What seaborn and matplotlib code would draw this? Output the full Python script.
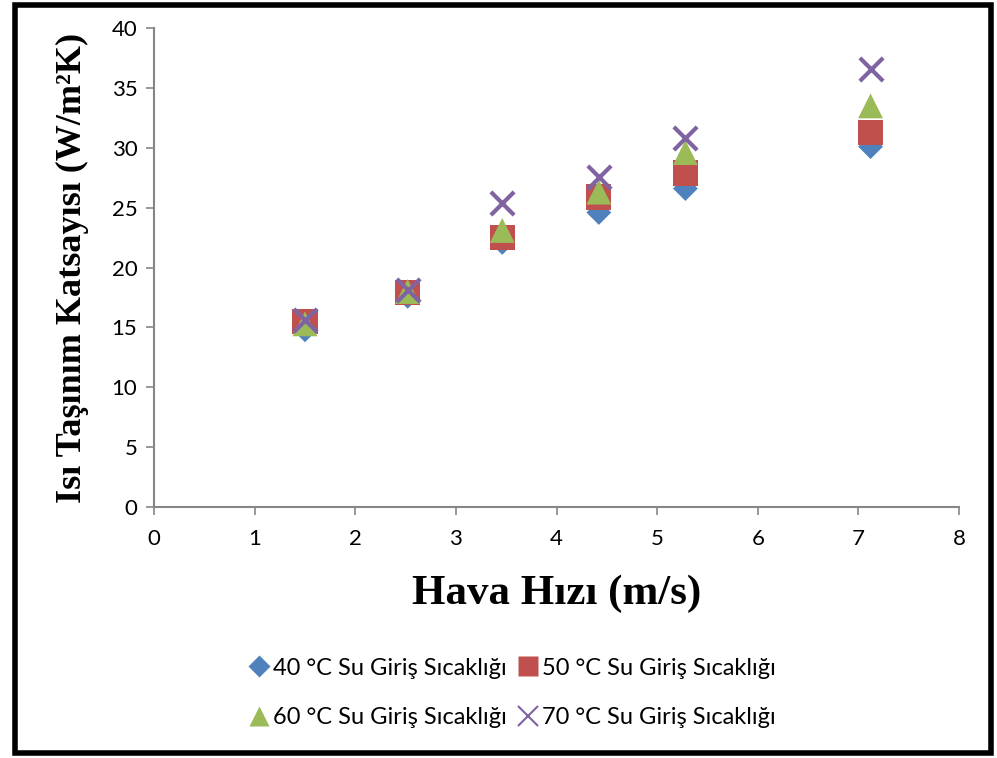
import matplotlib
matplotlib.use("Agg")
import matplotlib.pyplot as plt
import seaborn as sns
import pandas as pd
from matplotlib.patches import Rectangle
from matplotlib.lines import Line2D

sns.set_style("white")
plt.rcParams['font.family'] = ['Lato', 'DejaVu Sans']
plt.rcParams['text.color'] = 'black'
plt.rcParams['axes.labelcolor'] = 'black'
plt.rcParams['xtick.color'] = 'black'
plt.rcParams['ytick.color'] = 'black'

hava_hizi = [1.50, 2.52, 3.46, 4.42, 5.28, 7.12]
series_names = ["40 °C Su Giriş Sıcaklığı", "50 °C Su Giriş Sıcaklığı",
                "60 °C Su Giriş Sıcaklığı", "70 °C Su Giriş Sıcaklığı"]
h40 = [14.8, 17.6, 22.1, 24.6, 26.6, 30.1]
h50 = [15.5, 17.9, 22.5, 25.9, 27.9, 31.3]
h60 = [15.3, 18.0, 23.1, 26.3, 29.6, 33.5]
h70 = [15.6, 18.1, 25.4, 27.6, 30.8, 36.6]
x_ticks = [0, 1, 2, 3, 4, 5, 6, 7, 8]
y_ticks = [0, 5, 10, 15, 20, 25, 30, 35, 40]

colors = ["#4F81BD", "#C0504D", "#9BBB59", "#8064A2"]
markers = ["D", "s", "^", "x"]
sizes = [160, 330, 320, 280]

rows = []
for name, vals in zip(series_names, [h40, h50, h60, h70]):
    for xv, yv in zip(hava_hizi, vals):
        rows.append({"x": xv, "y": yv, "seri": name})
df = pd.DataFrame(rows)

fig = plt.figure(figsize=(9.97, 7.58), dpi=100)
ax = fig.add_axes([0.1545, 0.331, 0.8075, 0.632])

for name, c, m, s in zip(series_names, colors, markers, sizes):
    sub = df[df["seri"] == name]
    kw = dict(color=c, marker=m, s=s, ax=ax, label=name, zorder=3)
    if m == "x":
        kw.update(linewidth=3)
    else:
        kw.update(edgecolor="none")
    sns.scatterplot(data=sub, x="x", y="y", legend=False, **kw)

ax.set_xlim(0, 8)
ax.set_ylim(0, 40)
ax.set_xticks(x_ticks)
ax.set_yticks(y_ticks)
for sp in ["top", "right"]:
    ax.spines[sp].set_visible(False)
for sp in ["left", "bottom"]:
    ax.spines[sp].set_color("#868686")
    ax.spines[sp].set_linewidth(1.5)
ax.tick_params(axis="both", direction="out", length=6, width=1.2, color="#868686",
               labelsize=16, labelcolor="black", bottom=True, left=True)
ax.tick_params(axis="x", pad=10)
ax.tick_params(axis="y", pad=6)

ax.set_xlabel("Hava Hızı (m/s)", fontfamily="Liberation Serif", fontweight="bold",
              fontsize=31, labelpad=18, color="black")
ax.set_ylabel("Isı Taşınım Katsayısı (W/m²K)", fontfamily="Liberation Serif",
              fontweight="bold", fontsize=26, labelpad=16, color="black")

lh = []
for name, c, m in zip(series_names, colors, markers):
    if m == "x":
        lh.append(Line2D([], [], ls="none", marker=m, color=c, markersize=15, markeredgewidth=1.5))
    else:
        lh.append(Line2D([], [], ls="none", marker=m, color=c, markersize=15 if m != "D" else 11,
                         markeredgecolor="none"))
order = [0, 2, 1, 3]
fig.legend([lh[i] for i in order], [series_names[i] for i in order], ncol=2,
           loc="center", bbox_to_anchor=(0.513, 0.086), frameon=False, fontsize=17,
           handletextpad=0.1, columnspacing=0.4, handlelength=1.0, labelspacing=1.2)

fig.add_artist(Rectangle((0.015, 0.006), 0.979, 0.988, transform=fig.transFigure,
                         fill=False, edgecolor="black", linewidth=4))

fig.savefig("out.png", dpi=100)
